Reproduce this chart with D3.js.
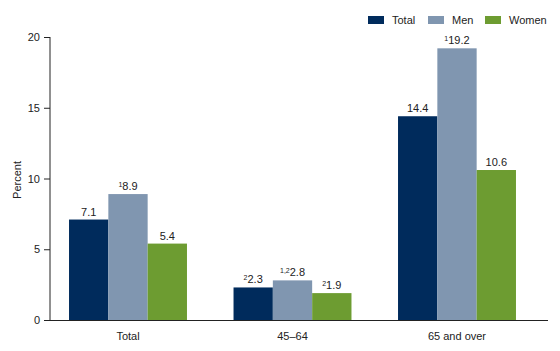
<!DOCTYPE html>
<html><head><meta charset="utf-8">
<script src="https://cdn.jsdelivr.net/npm/d3@7"></script>
<style>body{margin:0;background:#fff;} text{font-family:"Liberation Sans",Arial,sans-serif;fill:#222;}</style>
</head><body>
<svg id="c" width="560" height="351"></svg>
<script>
const categories = ["Total", "45\u201364", "65 and over"];
const seriesNames = ["Total", "Men", "Women"];
const totalValues = [7.1, 2.3, 14.4];
const menValues = [8.9, 2.8, 19.2];
const womenValues = [5.4, 1.9, 10.6];
const totalNotes = ["", "2", ""];
const menNotes = ["1", "1,2", "1"];
const womenNotes = ["", "2", ""];
const yTicks = [0, 5, 10, 15, 20];
const colors = ["#002b5c", "#8096b0", "#6d9c31"];

const series = [totalValues, menValues, womenValues];
const notes = [totalNotes, menNotes, womenNotes];

const svg = d3.select("#c");
const y = d3.scaleLinear().domain([0, 20]).range([320, 37]);
const x0 = d3.scaleBand().domain(categories).range([45.75, 539.25]).paddingInner(0.283).paddingOuter(0.1415);
const x1 = d3.scaleBand().domain(seriesNames).range([0, x0.bandwidth()]);

// y axis
const ya = svg.append("g").attr("transform", "translate(50,0)")
  .call(d3.axisLeft(y).tickValues(yTicks).tickSize(6).tickPadding(4));
ya.select(".domain").attr("stroke", "#222").attr("d", "M0,37V320");
ya.selectAll(".tick line").attr("stroke", "#222");
ya.selectAll(".tick text").style("font-size", "11px").attr("fill", "#222");

svg.append("text").attr("transform", "translate(21,180) rotate(-90)")
  .attr("text-anchor", "middle").style("font-size", "11px").text("Percent");

// bars
categories.forEach((c, i) => {
  seriesNames.forEach((s, j) => {
    const v = series[j][i];
    const bx = x0(c) + x1(s);
    svg.append("rect").attr("x", bx).attr("y", y(v)).attr("width", x1.bandwidth()).attr("height", y(0) - y(v))
      .attr("fill", colors[j]);
    const t = svg.append("text").attr("x", bx + x1.bandwidth() / 2).attr("y", y(v) - 4)
      .attr("text-anchor", "middle").style("font-size", "11px");
    if (notes[j][i]) {
      t.append("tspan").style("font-size", "7px").attr("dy", "-3").text(notes[j][i]);
      t.append("tspan").attr("dy", "3").text(v.toFixed(1));
    } else {
      t.text(v.toFixed(1));
    }
  });
});

// x axis
svg.append("line").attr("x1", 50).attr("x2", 548).attr("y1", 320.5).attr("y2", 320.5).attr("stroke", "#222");
categories.forEach(c => {
  svg.append("text").attr("x", x0(c) + x0.bandwidth() / 2).attr("y", 340)
    .attr("text-anchor", "middle").style("font-size", "11px").text(c);
});

// legend
const legX = [368, 428, 485];
seriesNames.forEach((s, j) => {
  svg.append("rect").attr("x", legX[j]).attr("y", 16).attr("width", 16).attr("height", 8).attr("fill", colors[j]);
  svg.append("text").attr("x", legX[j] + 24).attr("y", 24).style("font-size", "11px").text(s);
});
</script>
</body></html>
